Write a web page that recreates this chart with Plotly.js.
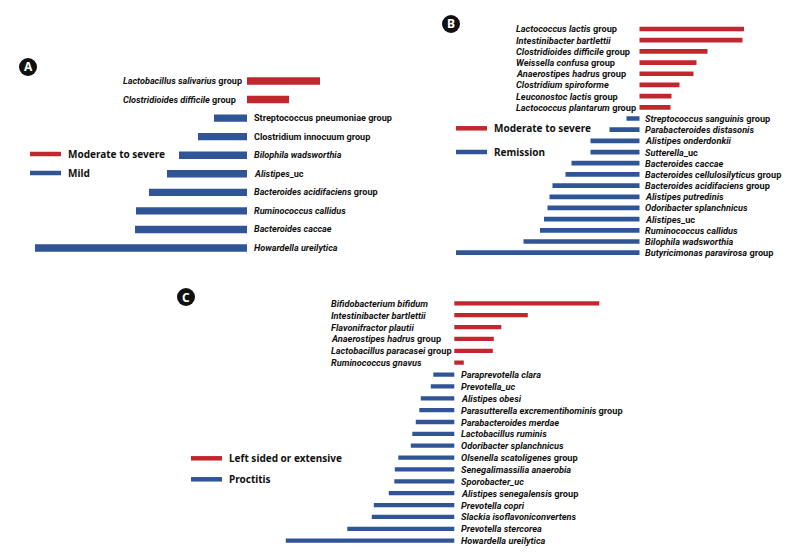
<!DOCTYPE html>
<html>
<head>
<meta charset="utf-8">
<script src="https://cdn.plot.ly/plotly-3.0.1.min.js"></script>
<style>
  body { margin: 0; background: #fff; }
  #chart { width: 796px; height: 558px; }
</style>
</head>
<body>
<div id="chart"></div>
<script>
// Panel A: Moderate to severe vs Mild
const a_red_names = ['<i>Lactobacillus salivarius</i> group', '<i>Clostridioides difficile</i> group'];
const a_red_vals = [1.46, 0.84];
const a_blue_names = ['Streptococcus pneumoniae group', 'Clostridium innocuum group', '<i>Bilophila wadsworthia</i>',
    '<i>Alistipes</i>_uc', '<i>Bacteroides acidifaciens</i> group', '<i>Ruminococcus callidus</i>',
    '<i>Bacteroides caccae</i>', '<i>Howardella ureilytica</i>'];
const a_blue_vals = [-0.66, -0.98, -1.36, -1.60, -1.96, -2.22, -2.24, -4.24];

// Panel B: Moderate to severe vs Remission
const b_red_names = ['<i>Lactococcus lactis</i> group', '<i>Intestinibacter bartlettii</i>', '<i>Clostridioides difficile</i> group',
    '<i>Weissella confusa</i> group', '<i>Anaerostipes hadrus</i> group', '<i>Clostridium spiroforme</i>',
    '<i>Leuconostoc lactis</i> group', '<i>Lactococcus plantarum</i> group'];
const b_red_vals = [2.09, 2.06, 1.36, 1.14, 1.08, 0.80, 0.64, 0.62];
const b_blue_names = ['<i>Streptococcus sanguinis</i> group', '<i>Parabacteroides distasonis</i>', '<i>Alistipes onderdonkii</i>',
    '<i>Sutterella</i>_uc', '<i>Bacteroides caccae</i>', '<i>Bacteroides cellulosilyticus</i> group',
    '<i>Bacteroides acidifaciens</i> group', '<i>Alistipes putredinis</i>', '<i>Odoribacter splanchnicus</i>',
    '<i>Alistipes</i>_uc', '<i>Ruminococcus callidus</i>', '<i>Bilophila wadsworthia</i>', '<i>Butyricimonas paravirosa</i> group'];
const b_blue_vals = [-0.26, -0.60, -0.98, -0.98, -1.36, -1.48, -1.74, -1.80, -1.84, -1.91, -1.99, -2.32, -3.67];

// Panel C: Left sided or extensive vs Proctitis
const c_red_names = ['<i>Bifidobacterium bifidum</i>', '<i>Intestinibacter bartlettii</i>', '<i>Flavonifractor plautii</i>',
    '<i>Anaerostipes hadrus</i> group', '<i>Lactobacillus paracasei</i> group', '<i>Ruminococcus gnavus</i>'];
const c_red_vals = [2.90, 1.47, 0.94, 0.79, 0.77, 0.19];
const c_blue_names = ['<i>Paraprevotella clara</i>', '<i>Prevotella_uc</i>', '<i>Alistipes obesi</i>',
    '<i>Parasutterella excrementihominis</i> group', '<i>Parabacteroides merdae</i>', '<i>Lactobacillus ruminis</i>',
    '<i>Odoribacter splanchnicus</i>', '<i>Olsenella scatoligenes</i> group', '<i>Senegalimassilia anaerobia</i>',
    '<i>Sporobacter_uc</i>', '<i>Alistipes senegalensis</i> group', '<i>Prevotella copri</i>',
    '<i>Slackia isoflavoniconvertens</i>', '<i>Prevotella stercorea</i>', '<i>Howardella ureilytica</i>'];
const c_blue_vals = [-0.42, -0.47, -0.67, -0.70, -0.77, -0.84, -0.87, -1.12, -1.19, -1.20, -1.31, -1.61, -1.65, -2.14, -3.37];

const RED = '#c1272d';
const BLUE = '#2f5597';
const W = 796, H = 558;
const PX_PER_UNIT = 50;
const FONT = 'Noto Sans, Liberation Sans, sans-serif';
const LABEL_FONT = 'Roboto, sans-serif';

// panel geometry (pixels)
const panels = [
    {letter: 'A', red: [a_red_names, a_red_vals], blue: [a_blue_names, a_blue_vals],
     zero: 247, top: 71.7, bottom: 257.3, barw: 0.4, redLabelX: 121, blueShift: 5, size: 9.1,
     circle: [28, 67], legend: {x: 30, y1: 154, y2: 173, txt: ['Moderate to severe', 'Mild']}},
    {letter: 'B', red: [b_red_names, b_red_vals], blue: [b_blue_names, b_blue_vals],
     zero: 639.5, top: 23.4, bottom: 258.3, barw: 0.42, redLabelX: 514, blueShift: 3, size: 9.2,
     circle: [451, 24], legend: {x: 456, y1: 128.3, y2: 152, txt: ['Moderate to severe', 'Remission']}},
    {letter: 'C', red: [c_red_names, c_red_vals], blue: [c_blue_names, c_blue_vals],
     zero: 454.3, top: 297.4, bottom: 546.6, barw: 0.36, redLabelX: 329, blueShift: 5, size: 9.2,
     circle: [186, 297], legend: {x: 191, y1: 458.3, y2: 479.3, txt: ['Left sided or extensive', 'Proctitis']}}
];

var data = [];
var layout = {
    width: W, height: H,
    margin: {l: 0, r: 0, t: 0, b: 0},
    paper_bgcolor: '#fff', plot_bgcolor: 'rgba(0,0,0,0)',
    showlegend: false,
    barmode: 'overlay',
    font: {family: FONT, color: '#111'},
    shapes: [],
    annotations: []
};

panels.forEach(function(p, i) {
    let sfx = i == 0 ? '' : String(i + 1);
    let xa = 'x' + sfx, ya = 'y' + sfx;
    let cats = p.red[0].concat(p.blue[0]);
    let n = cats.length;

    layout['xaxis' + sfx] = {domain: [0, 1], anchor: ya, visible: false, fixedrange: true,
        range: [-p.zero / PX_PER_UNIT, (W - p.zero) / PX_PER_UNIT]};
    layout['yaxis' + sfx] = {domain: [1 - p.bottom / H, 1 - p.top / H], anchor: xa, visible: false,
        type: 'category', categoryorder: 'array', categoryarray: cats, range: [n - 0.5, -0.5]};

    data.push({type: 'bar', orientation: 'h', x: p.red[1], y: p.red[0], xaxis: xa, yaxis: ya,
        width: p.barw, marker: {color: RED}, hoverinfo: 'skip'});
    data.push({type: 'bar', orientation: 'h', x: p.blue[1], y: p.blue[0], xaxis: xa, yaxis: ya,
        width: p.barw, marker: {color: BLUE}, hoverinfo: 'skip'});

    // species labels
    let lf = {family: LABEL_FONT, size: p.size, weight: 700, color: '#111'};
    p.red[0].forEach(function(name) {
        layout.annotations.push({text: name, xref: 'paper', x: p.redLabelX / W, xanchor: 'left',
            yref: ya, y: name, yanchor: 'middle', showarrow: false, font: lf});
    });
    p.blue[0].forEach(function(name) {
        layout.annotations.push({text: name, xref: xa, x: 0, xanchor: 'left', xshift: p.blueShift,
            yref: ya, y: name, yanchor: 'middle', showarrow: false, font: lf});
    });

    // legend lines + texts
    let lg = p.legend;
    [[lg.y1, RED, lg.txt[0]], [lg.y2, BLUE, lg.txt[1]]].forEach(function(it) {
        layout.shapes.push({type: 'line', xref: 'paper', yref: 'paper',
            x0: lg.x / W, x1: (lg.x + 31) / W, y0: 1 - it[0] / H, y1: 1 - it[0] / H,
            line: {color: it[1], width: 4.5}});
        layout.annotations.push({text: it[2], xref: 'paper', yref: 'paper', x: (lg.x + 36) / W,
            y: 1 - it[0] / H, xanchor: 'left', yanchor: 'middle', showarrow: false,
            font: {size: 10, weight: 700, color: '#111'}});
    });

    // panel letter badge
    let cx = p.circle[0], cy = p.circle[1], r = 9;
    layout.shapes.push({type: 'circle', xref: 'paper', yref: 'paper',
        x0: (cx - r) / W, x1: (cx + r) / W, y0: 1 - (cy + r) / H, y1: 1 - (cy - r) / H,
        fillcolor: '#111', line: {width: 0}});
    layout.annotations.push({text: p.letter, xref: 'paper', yref: 'paper', x: cx / W, y: 1 - cy / H,
        xanchor: 'center', yanchor: 'middle', showarrow: false,
        font: {size: 12, weight: 700, color: '#fff'}});
});

Plotly.newPlot('chart', data, layout, {displayModeBar: false, staticPlot: true});
</script>
</body>
</html>
